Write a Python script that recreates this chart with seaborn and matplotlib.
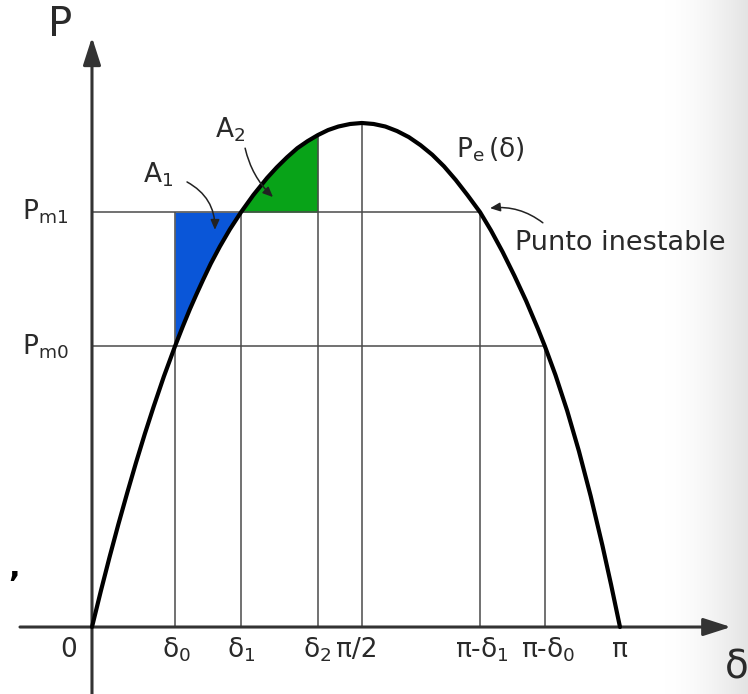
import numpy as np
import matplotlib
matplotlib.use("Agg")
import matplotlib.pyplot as plt
import seaborn as sns

# curve P_e(delta) (x in "degrees", y in units of P_max)
delta_pts = [0, 3, 6, 9, 12, 15, 18, 21, 24.5, 28.3, 31.0, 33.4, 35.6, 37.8, 40.5,
             43.6, 47.0, 50.8, 55.0, 59.7, 63.0, 66.5, 70.0, 73.5, 77.0, 80.5, 84.0,
             88.0, 92.0, 96.0, 100.0, 104.0, 108.0, 112.0, 116.0, 120.0, 124.0, 128.0,
             132.3, 136.0, 140.0, 144.0, 148.0, 152.0, 154.4, 158.0, 162.0, 166.0,
             170.0, 174.0, 177.0, 180.0]
p_pts = [0, 0.071, 0.139, 0.204, 0.266, 0.326, 0.383, 0.437, 0.497, 0.557, 0.597,
         0.631, 0.660, 0.688, 0.721, 0.755, 0.789, 0.823, 0.857, 0.891, 0.912, 0.932,
         0.950, 0.964, 0.976, 0.986, 0.993, 0.998, 1.0, 0.998, 0.993, 0.984, 0.972,
         0.956, 0.937, 0.914, 0.887, 0.857, 0.823, 0.787, 0.744, 0.697, 0.647, 0.592,
         0.557, 0.500, 0.429, 0.349, 0.260, 0.162, 0.083, 0]

pm1 = 0.823
pm0 = 0.557

tick_pos = [28.3, 50.8, 77.0, 92.0, 132.3, 154.4, 180.0]
tick_labels = [r"$\mathregular{δ_0}$", r"$\mathregular{δ_1}$", r"$\mathregular{δ_2}$",
               "π/2", r"$\mathregular{π\text{-}δ_1}$", r"$\mathregular{π\text{-}δ_0}$", "π"]
tick_label_x = [176.0, 241.0, 317.0, 357.0, 482.0, 548.0, 620.0]  # px centres of labels
guide_top = [pm1, pm1, 0.976, 1.0, pm1, pm0]

blue = "#0a56d8"
green = "#08a318"
line_c = "#4a4a4a"
txt_c = "#2a2a2a"

sns.set_theme(style="white")
plt.rcParams["font.family"] = ["DejaVu Sans"]

fig = plt.figure(figsize=(7.48, 6.94), dpi=100)
ax = fig.add_axes([0, 0, 1, 1])
ax.set_xlim(-31.36, 223.64)
ax.set_ylim(-0.1329, 1.2440)
ax.axis("off")


def px_x(px):
    return (px - 92) * 180.0 / 528.0


# soft grey shading on the right edge
t = np.linspace(0, 1, 200)
shade = 1 - 0.11 * t ** 1.6
img = np.stack([shade, shade, shade], axis=-1)[None, :, :].repeat(2, axis=0)
ax.imshow(img, extent=[px_x(665), 223.64, -0.1329, 1.2440], aspect="auto", zorder=0)

d = np.array(delta_pts)
p = np.array(p_pts)

# shaded areas A1 and A2
m1 = (d >= tick_pos[0]) & (d <= tick_pos[1])
ax.fill_between(d[m1], p[m1], pm1, color=blue, lw=0, zorder=1)
m2 = (d >= tick_pos[1]) & (d <= tick_pos[2])
ax.fill_between(d[m2], pm1, p[m2], color=green, lw=0, zorder=1)

# guide lines
ax.vlines(tick_pos[:6], 0, guide_top, color=line_c, lw=1.1, zorder=2)
ax.hlines([pm1, pm0], 0, [tick_pos[4], tick_pos[5]], color=line_c, lw=1.1, zorder=2)

# axes with arrows
ax.annotate("", xy=(px_x(731), 0), xytext=(px_x(20), 0),
            arrowprops=dict(arrowstyle="-|>,head_length=1.4,head_width=0.45",
                            lw=2.2, color="#333333", shrinkA=0, shrinkB=0), zorder=3)
ax.annotate("", xy=(0, 1.17), xytext=(0, -0.14),
            arrowprops=dict(arrowstyle="-|>,head_length=1.4,head_width=0.45",
                            lw=2.2, color="#333333", shrinkA=0, shrinkB=0), zorder=3)

sns.lineplot(x=delta_pts, y=p_pts, color="black", lw=3.0, ax=ax,
             estimator=None, sort=False, zorder=4)

# labels
fs = 19
ax.text(-10.9, 1.194, "P", fontsize=29, color=txt_c, ha="center", va="center")
ax.text(219.9, -0.081, "δ", fontsize=28, color=txt_c, ha="center", va="center")
ax.text(-7.8, -0.046, "0", fontsize=fs, color=txt_c, ha="center", va="center")
for lx, lab in zip(tick_label_x, tick_labels):
    ax.text(px_x(lx), -0.046, lab, fontsize=fs, color=txt_c, ha="center", va="center")
ax.text(-16.0, pm1, r"$\mathregular{P_{m1}}$", fontsize=fs, color=txt_c,
        ha="center", va="center")
ax.text(-16.0, pm0, r"$\mathregular{P_{m0}}$", fontsize=fs, color=txt_c,
        ha="center", va="center")
ax.text(22.5, 0.897, r"$\mathregular{A_1}$", fontsize=fs, color=txt_c, ha="center", va="center")
ax.text(47.0, 0.986, r"$\mathregular{A_2}$", fontsize=fs, color=txt_c, ha="center", va="center")
ax.text(135.7, 0.946, r"$\mathregular{P_e\,(δ)}$", fontsize=fs, color=txt_c,
        ha="center", va="center")
ax.text(144.2, 0.762, "Punto inestable", fontsize=19.5, color=txt_c, ha="left", va="center")
ax.text(-26.6, 0.117, ",", fontsize=22, color="black", ha="center", va="center",
        fontweight="bold")

arr = dict(arrowstyle="-|>,head_length=0.5,head_width=0.22", lw=1.1, color="#222222",
           shrinkA=0, shrinkB=0)
ax.annotate("", xy=(41.9, 0.788), xytext=(32.4, 0.883),
            arrowprops=dict(arr, connectionstyle="arc3,rad=-0.3"), zorder=5)
ax.annotate("", xy=(61.7, 0.853), xytext=(52.2, 0.950),
            arrowprops=dict(arr, connectionstyle="arc3,rad=0.15"), zorder=5)
ax.annotate("", xy=(135.7, 0.831), xytext=(153.7, 0.802),
            arrowprops=dict(arr, connectionstyle="arc3,rad=0.2"), zorder=5)

fig.savefig("out.png", dpi=100)
